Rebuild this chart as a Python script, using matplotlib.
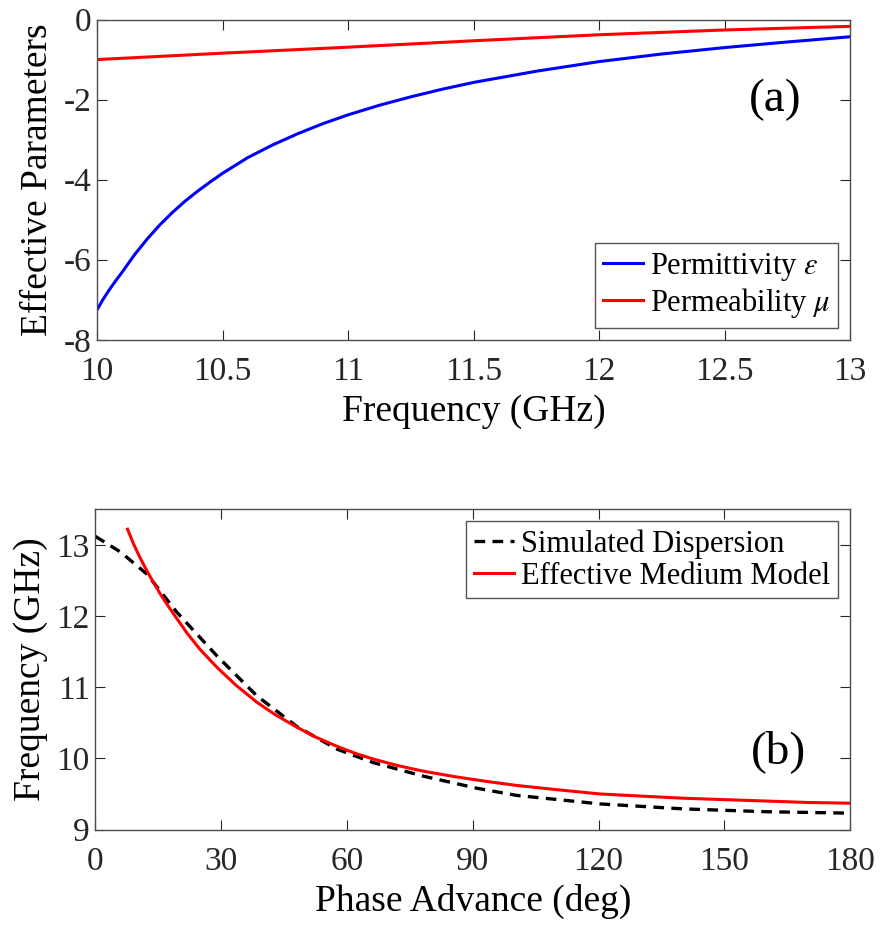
import matplotlib
matplotlib.use("Agg")
import matplotlib.pyplot as plt
import numpy as np

plt.rcParams["font.family"] = ["Liberation Serif", "DejaVu Serif"]
plt.rcParams["mathtext.fontset"] = "stix"
plt.rcParams["axes.unicode_minus"] = False

# (a) effective parameters vs frequency
freq_a = [10.0, 10.025, 10.05, 10.075, 10.1, 10.15, 10.2, 10.25, 10.3, 10.35, 10.4,
          10.45, 10.5, 10.6, 10.7, 10.8, 10.9, 11.0, 11.125, 11.25, 11.375, 11.5,
          11.75, 12.0, 12.25, 12.5, 12.75, 13.0]
permittivity = [-7.25, -6.98, -6.74, -6.52, -6.31, -5.87, -5.48, -5.13, -4.82, -4.54,
                -4.29, -4.06, -3.84, -3.45, -3.13, -2.85, -2.60, -2.38, -2.14, -1.93,
                -1.74, -1.57, -1.29, -1.05, -0.86, -0.70, -0.56, -0.43]
freq_mu = [10.0, 10.5, 11.0, 11.5, 12.0, 12.5, 13.0]
permeability = [-1.00, -0.84, -0.69, -0.53, -0.38, -0.26, -0.17]

# (b) dispersion
phase_sim = [0, 6, 12.3, 19.5, 29, 38.5, 48, 57.6, 66.3, 78.2, 91, 100.4, 120.3,
             140.2, 160, 180]
freq_sim = [13.12, 12.90, 12.59, 12.05, 11.44, 10.88, 10.45, 10.13, 9.94, 9.75, 9.58,
            9.48, 9.36, 9.29, 9.25, 9.23]
phase_emm = [7.7, 9, 10.5, 12, 13.5, 15.5, 17.5, 19.5, 22, 25, 29, 33.5, 38.5, 43,
             48, 52.5, 57.6, 62, 66.3, 72, 78.2, 86, 94, 100.4, 110, 120.3, 130,
             140.2, 150, 160, 170, 180]
freq_emm = [13.22, 13.03, 12.84, 12.67, 12.51, 12.31, 12.13, 11.96, 11.75, 11.53,
            11.28, 11.03, 10.79, 10.61, 10.44, 10.30, 10.17, 10.07, 9.99, 9.90, 9.82,
            9.74, 9.67, 9.62, 9.56, 9.50, 9.47, 9.44, 9.42, 9.40, 9.38, 9.37]

fig = plt.figure(figsize=(8.82, 9.31), dpi=100)
ax1 = fig.add_axes([0.110, 0.635, 0.854, 0.344])
ax2 = fig.add_axes([0.108, 0.109, 0.856, 0.344])

ax1.plot(freq_a, permittivity, color="#0000ff", lw=2.2, label=r"Permittivity $\epsilon$")
ax1.plot(freq_mu, permeability, color="#ff0000", lw=2.2, label=r"Permeability $\mu$")
ax1.set_xlim(10, 13)
ax1.set_ylim(-8, 0)
ax1.set_xticks([10, 10.5, 11, 11.5, 12, 12.5, 13])
ax1.set_xticklabels(["10", "10.5", "11", "11.5", "12", "12.5", "13"])
ax1.set_yticks([-8, -6, -4, -2, 0])
ax1.set_xlabel("Frequency (GHz)", fontsize=27, labelpad=5)
ax1.set_ylabel("Effective Parameters", fontsize=27, labelpad=6)
ax1.text(12.7, -2.0, "(a)", fontsize=34, ha="center", va="center")
leg1 = ax1.legend(loc="lower right", fontsize=22, frameon=True, fancybox=False,
                  handlelength=1.3, handletextpad=0.25, borderpad=0.25,
                  labelspacing=0.1, borderaxespad=0.4)

ax2.plot(phase_sim, freq_sim, color="black", lw=2.4, ls=(0, (3.2, 2.2)),
         label="Simulated Dispersion")
ax2.plot(phase_emm, freq_emm, color="#ff0000", lw=2.2, label="Effective Medium Model")
ax2.set_xlim(0, 180)
ax2.set_ylim(9, 13.5)
ax2.set_xticks([0, 30, 60, 90, 120, 150, 180])
ax2.set_yticks([9, 10, 11, 12, 13])
ax2.set_xlabel("Phase Advance (deg)", fontsize=27, labelpad=5)
ax2.set_ylabel("Frequency (GHz)", fontsize=27, labelpad=6)
ax2.text(163, 10.1, "(b)", fontsize=34, ha="center", va="center")
leg2 = ax2.legend(loc="upper right", fontsize=22, frameon=True, fancybox=False,
                  handlelength=1.3, handletextpad=0.25, borderpad=0.25,
                  labelspacing=0.1, borderaxespad=0.4)

for leg in (leg1, leg2):
    leg.get_frame().set_edgecolor("#555555")
    leg.get_frame().set_linewidth(1.0)
    leg.get_frame().set_alpha(1.0)

for ax in (ax1, ax2):
    ax.tick_params(direction="in", length=7, width=0.8, top=True, right=True,
                   labelsize=24, colors="#262626")
    ax.tick_params(axis="x", pad=12)
    ax.tick_params(axis="y", pad=4)
    for sp in ax.spines.values():
        sp.set_color("#4d4d4d")
        sp.set_linewidth(1.0)

fig.savefig("out.png", dpi=100, facecolor="white")
